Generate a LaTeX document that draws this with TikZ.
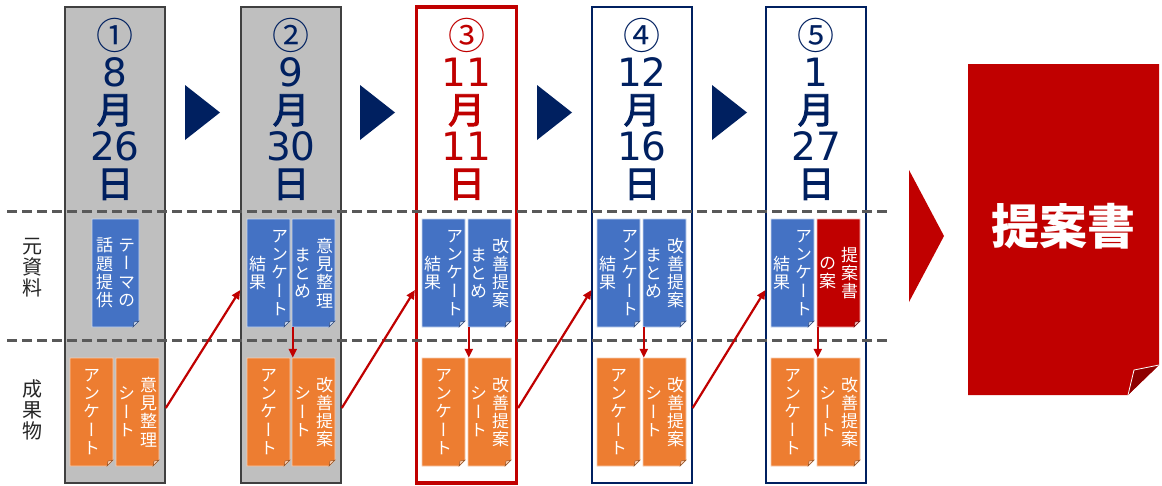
\documentclass[tikz,border=0pt]{standalone}
\usepackage{fontspec}
\newfontfamily\jp{Noto Sans CJK JP}
\newfontfamily\jpm[FakeBold=2.5]{Noto Sans CJK JP}
\newfontfamily\jpv[RawFeature=+vert]{Noto Sans CJK JP}
\newfontfamily\dv{DejaVu Sans}
\usetikzlibrary{arrows.meta}
\definecolor{navy}{HTML}{002060}
\definecolor{dred}{HTML}{C00000}
\definecolor{fold}{HTML}{8E0000}
\definecolor{docblue}{HTML}{4472C4}
\definecolor{docorange}{HTML}{ED7D31}
\definecolor{bdblue}{HTML}{C9D7EF}
\definecolor{bdorange}{HTML}{F8CBAD}
\definecolor{bdred}{HTML}{F2B8B8}
\definecolor{colfill}{HTML}{BFBFBF}
\definecolor{colborder}{HTML}{404040}
\definecolor{dashc}{HTML}{595959}
\definecolor{sidec}{HTML}{262626}
% vertical stack of characters with fixed pitch
\newcommand\vcol[2][18.3pt]{$\vcenter{\let\\\cr\baselineskip=#1\relax\lineskip=0pt\lineskiplimit=-100pt\halign{\hfil##\hfil\cr#2\crcr}}$}
% two vertical columns: #1 right column, #2 left column
\newcommand\twocol[2]{\raisebox{4pt}{\vcol{#2}\hspace{5pt}\vcol{#1}}}
\newcommand\onecol[1]{\raisebox{4pt}{\vcol{#1}}}
% header pieces
\newcommand\hd[1]{{\dv\fontsize{39}{37}\selectfont #1}}
\newcommand\hk[1]{{\jpm #1}}
% document shape with folded corner: name, left, top, width, height, fill, border, text
\newcommand\docbox[8]{%
  \path[fill=#6,draw=#7,line width=0.8pt] (#2,#3) -- (#2+#4,#3) -- (#2+#4,#3+#5-6) -- (#2+#4-6,#3+#5) -- (#2,#3+#5) -- cycle;
  \path[fill=#7,draw=#6!60!black,line width=0.4pt] (#2+#4,#3+#5-6) -- (#2+#4-5,#3+#5-5) -- (#2+#4-6,#3+#5) -- cycle;
  \node[docnode,minimum width=#4pt,minimum height=#5pt] (#1) at (#2+#4/2,#3+#5/2) {#8};
}
\begin{document}
\begin{tikzpicture}[x=1pt,y=-1pt,
  colbase/.style={minimum width=100pt,minimum height=476pt,inner sep=0pt},
  colgray/.style={colbase,draw=colborder,fill=colfill,line width=1.6pt},
  colred/.style={colbase,draw=dred,fill=white,line width=3.2pt},
  colnavy/.style={colbase,draw=navy,fill=white,line width=1.2pt},
  hdr/.style={inner sep=0pt,text=navy,font=\jp\fontsize{37}{37}\selectfont},
  side/.style={inner sep=0pt,text=sidec,font=\jp\fontsize{20}{21}\selectfont},
  docnode/.style={inner sep=0pt,text=white,font=\jpv\fontsize{17}{18.3}\selectfont},
  dashline/.style={dashc,line width=3pt,dash pattern=on 10pt off 5pt},
  navyarrow/.style={fill=navy},
  conn/.style={dred,line width=2.2pt,-{Triangle[length=9pt,width=8pt]}},
  bigtext/.style={inner sep=0pt,text=white,font=\jp\bfseries\fontsize{48}{50}\selectfont}
]
\useasboundingbox (0,0) rectangle (1162,485);
\fill[white] (0,0) rectangle (1162,485);

% columns
\node[colgray] (c1) at (115,245) {};
\node[colgray] (c2) at (291,245) {};
\node[colred]  (c3) at (466.5,245) {};
\node[colnavy] (c4) at (642,245) {};
\node[colnavy] (c5) at (816,245) {};

% headers
\node[hdr] (h1) at (115,109) {\vcol[37pt]{①\\\hd{8}\\\hk{月}\\\hd{26}\\\hk{日}}};
\node[hdr] (h2) at (291,109) {\vcol[37pt]{②\\\hd{9}\\\hk{月}\\\hd{30}\\\hk{日}}};
\node[hdr,text=dred] (h3) at (466.5,109) {\vcol[37pt]{③\\\hd{11}\\\hk{月}\\\hd{11}\\\hk{日}}};
\node[hdr] (h4) at (642,109) {\vcol[37pt]{④\\\hd{12}\\\hk{月}\\\hd{16}\\\hk{日}}};
\node[hdr] (h5) at (816,109) {\vcol[37pt]{⑤\\\hd{1}\\\hk{月}\\\hd{27}\\\hk{日}}};

% navy step triangles
\fill[navyarrow] (185,85) -- (220,112.5) -- (185,140) -- cycle;
\fill[navyarrow] (360,85) -- (395,112.5) -- (360,140) -- cycle;
\fill[navyarrow] (537,85) -- (572,112.5) -- (537,140) -- cycle;
\fill[navyarrow] (712,85) -- (747,112.5) -- (712,140) -- cycle;

% dashed separators
\draw[dashline] (7,211) -- (889,211);
\draw[dashline] (7,340) -- (889,340);

% side labels
\node[side] (l1) at (33,268) {\vcol[21pt]{元\\資\\料}};
\node[side] (l2) at (33,410) {\vcol[21pt]{成\\果\\物}};

% column 1
\docbox{s1a}{92}{219}{47}{108}{docblue}{bdblue}{\twocol{テ\\ー\\マ\\の}{話\\題\\提\\供}}
\docbox{r1a}{70}{358}{43}{108}{docorange}{bdorange}{\onecol{ア\\ン\\ケ\\ー\\ト}}
\docbox{r1b}{116}{358}{43}{108}{docorange}{bdorange}{\twocol{意\\見\\整\\理}{シ\\ー\\ト}}
% column 2
\docbox{s2a}{247}{219}{43}{108}{docblue}{bdblue}{\twocol{ア\\ン\\ケ\\ー\\ト}{結\\果}}
\docbox{s2b}{292}{219}{43}{108}{docblue}{bdblue}{\twocol{意\\見\\整\\理}{ま\\と\\め}}
\docbox{r2a}{247}{358}{43}{108}{docorange}{bdorange}{\onecol{ア\\ン\\ケ\\ー\\ト}}
\docbox{r2b}{292}{358}{43}{108}{docorange}{bdorange}{\twocol{改\\善\\提\\案}{シ\\ー\\ト}}
% column 3
\docbox{s3a}{422}{219}{43}{108}{docblue}{bdblue}{\twocol{ア\\ン\\ケ\\ー\\ト}{結\\果}}
\docbox{s3b}{468}{219}{43}{108}{docblue}{bdblue}{\twocol{改\\善\\提\\案}{ま\\と\\め}}
\docbox{r3a}{422}{358}{43}{108}{docorange}{bdorange}{\onecol{ア\\ン\\ケ\\ー\\ト}}
\docbox{r3b}{468}{358}{43}{108}{docorange}{bdorange}{\twocol{改\\善\\提\\案}{シ\\ー\\ト}}
% column 4
\docbox{s4a}{597}{219}{43}{108}{docblue}{bdblue}{\twocol{ア\\ン\\ケ\\ー\\ト}{結\\果}}
\docbox{s4b}{643}{219}{43}{108}{docblue}{bdblue}{\twocol{改\\善\\提\\案}{ま\\と\\め}}
\docbox{r4a}{597}{358}{43}{108}{docorange}{bdorange}{\onecol{ア\\ン\\ケ\\ー\\ト}}
\docbox{r4b}{643}{358}{43}{108}{docorange}{bdorange}{\twocol{改\\善\\提\\案}{シ\\ー\\ト}}
% column 5
\docbox{s5a}{771}{219}{43}{108}{docblue}{bdblue}{\twocol{ア\\ン\\ケ\\ー\\ト}{結\\果}}
\docbox{s5b}{817}{219}{43}{108}{dred}{bdred}{\twocol{提\\案\\書}{の\\案}}
\docbox{r5a}{771}{358}{43}{108}{docorange}{bdorange}{\onecol{ア\\ン\\ケ\\ー\\ト}}
\docbox{r5b}{817}{358}{43}{108}{docorange}{bdorange}{\twocol{改\\善\\提\\案}{シ\\ー\\ト}}

% down connectors
\draw[conn] ([xshift=1pt]s2b.south west) -- ([xshift=1pt]r2b.north west);
\draw[conn] ([xshift=1pt]s3b.south west) -- ([xshift=1pt]r3b.north west);
\draw[conn] ([xshift=1pt]s4b.south west) -- ([xshift=1pt]r4b.north west);
\draw[conn] ([xshift=1pt]s5b.south west) -- ([xshift=1pt]r5b.north west);

% column-to-column connectors
\draw[conn] (c1.east |- 0,408) -- (c2.west |- 0,290);
\draw[conn] (c2.east |- 0,408) -- (c3.west |- 0,290);
\draw[conn] (c3.east |- 0,408) -- (c4.west |- 0,290);
\draw[conn] (c4.east |- 0,408) -- (c5.west |- 0,290);

% big arrow
\fill[dred] (909,170) -- (944,236) -- (909,302) -- cycle;

% final document
\fill[dred] (968,64) -- (1159,64) -- (1159,365) -- (1128,395) -- (968,395) -- cycle;
\path[fill=fold,draw=white,line width=0.8pt] (1159,365) -- (1134,370) -- (1128,395);
\node[bigtext,minimum width=191pt,minimum height=331pt] (final) at (1063.5,229.5) {\raisebox{12pt}{提案書}};
\end{tikzpicture}
\end{document}
